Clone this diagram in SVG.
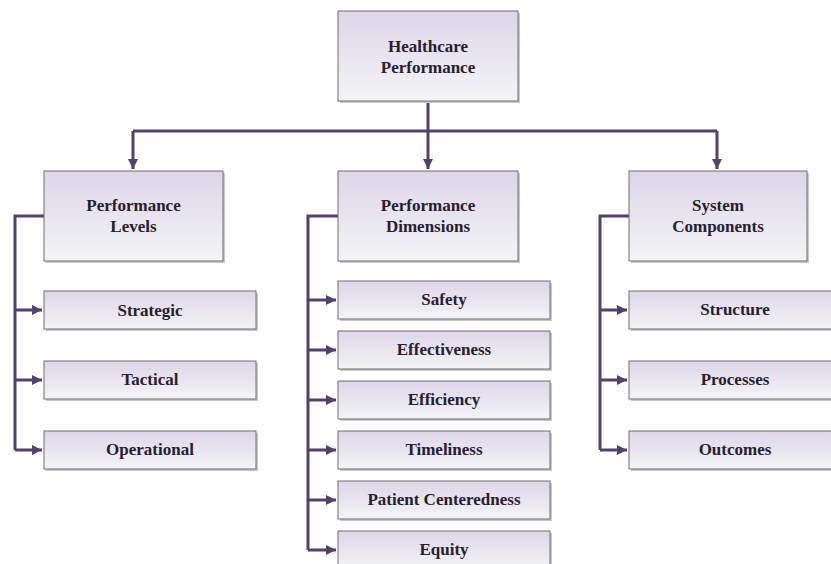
<svg xmlns="http://www.w3.org/2000/svg" width="831" height="564" viewBox="0 0 831 564">
<style>
.box{fill:url(#g);stroke:#6e6e72;stroke-width:1}
.sh{fill:#c8c8cc}
.t{font-family:'Liberation Serif','Times New Roman','DejaVu Serif',serif;font-weight:bold;font-size:17px;fill:#262030;text-anchor:middle}
.c{fill:none;stroke:#50426c;stroke-width:3}
</style>
<defs>
<linearGradient id="g" x1="0" y1="0" x2="0" y2="1">
<stop offset="0" stop-color="#dcd6e7"/>
<stop offset="1" stop-color="#f4f4f6"/>
</linearGradient>
<marker id="a" viewBox="0 0 10 10" refX="10" refY="5" markerWidth="10" markerHeight="10" markerUnits="userSpaceOnUse" orient="auto">
<path d="M0,0 L10,5 L0,10 Z" fill="#50426c"/>
</marker>
</defs>
<rect width="831" height="564" fill="#ffffff"/>
<g id="connectors">
<path class="c" d="M428,101 V169" marker-end="url(#a)"/>
<path class="c" d="M133,131 H717"/>
<path class="c" d="M133,131 V169" marker-end="url(#a)"/>
<path class="c" d="M717,131 V169" marker-end="url(#a)"/>
<path class="c" d="M44,216 H15 V450"/>
<path class="c" d="M15,310 H42" marker-end="url(#a)"/>
<path class="c" d="M15,380 H42" marker-end="url(#a)"/>
<path class="c" d="M15,450 H42" marker-end="url(#a)"/>
<path class="c" d="M338,216 H308 V550"/>
<path class="c" d="M308,300 H336" marker-end="url(#a)"/>
<path class="c" d="M308,350 H336" marker-end="url(#a)"/>
<path class="c" d="M308,400 H336" marker-end="url(#a)"/>
<path class="c" d="M308,450 H336" marker-end="url(#a)"/>
<path class="c" d="M308,500 H336" marker-end="url(#a)"/>
<path class="c" d="M308,550 H336" marker-end="url(#a)"/>
<path class="c" d="M629,216 H600 V450"/>
<path class="c" d="M600,310 H627" marker-end="url(#a)"/>
<path class="c" d="M600,380 H627" marker-end="url(#a)"/>
<path class="c" d="M600,450 H627" marker-end="url(#a)"/>
</g>
<g id="root"><rect class="sh" x="340" y="13" width="180" height="90"/><rect class="box" x="338" y="11" width="180" height="90"/><text class="t" x="428" y="52">Healthcare</text><text class="t" x="428" y="73">Performance</text></g>
<g id="levels"><rect class="sh" x="46" y="173" width="179" height="90"/><rect class="box" x="44" y="171" width="179" height="90"/><text class="t" x="133.5" y="211">Performance</text><text class="t" x="133.5" y="232">Levels</text></g>
<g id="dimensions"><rect class="sh" x="340" y="173" width="180" height="90"/><rect class="box" x="338" y="171" width="180" height="90"/><text class="t" x="428" y="211">Performance</text><text class="t" x="428" y="232">Dimensions</text></g>
<g id="components"><rect class="sh" x="631" y="173" width="178" height="90"/><rect class="box" x="629" y="171" width="178" height="90"/><text class="t" x="718" y="211">System</text><text class="t" x="718" y="232">Components</text></g>
<g id="strategic"><rect class="sh" x="46" y="293" width="212" height="38"/><rect class="box" x="44" y="291" width="212" height="38"/><text class="t" x="150" y="316">Strategic</text></g>
<g id="tactical"><rect class="sh" x="46" y="363" width="212" height="38"/><rect class="box" x="44" y="361" width="212" height="38"/><text class="t" x="150" y="385">Tactical</text></g>
<g id="operational"><rect class="sh" x="46" y="433" width="212" height="38"/><rect class="box" x="44" y="431" width="212" height="38"/><text class="t" x="150" y="455">Operational</text></g>
<g id="safety"><rect class="sh" x="340" y="283" width="212" height="38"/><rect class="box" x="338" y="281" width="212" height="38"/><text class="t" x="444" y="305">Safety</text></g>
<g id="effectiveness"><rect class="sh" x="340" y="333" width="212" height="38"/><rect class="box" x="338" y="331" width="212" height="38"/><text class="t" x="444" y="355">Effectiveness</text></g>
<g id="efficiency"><rect class="sh" x="340" y="383" width="212" height="38"/><rect class="box" x="338" y="381" width="212" height="38"/><text class="t" x="444" y="405">Efficiency</text></g>
<g id="timeliness"><rect class="sh" x="340" y="433" width="212" height="38"/><rect class="box" x="338" y="431" width="212" height="38"/><text class="t" x="444" y="455">Timeliness</text></g>
<g id="patient"><rect class="sh" x="340" y="483" width="212" height="38"/><rect class="box" x="338" y="481" width="212" height="38"/><text class="t" x="444" y="505">Patient Centeredness</text></g>
<g id="equity"><rect class="sh" x="340" y="533" width="212" height="38"/><rect class="box" x="338" y="531" width="212" height="38"/><text class="t" x="444" y="555">Equity</text></g>
<g id="structure"><rect class="sh" x="631" y="293" width="212" height="38"/><rect class="box" x="629" y="291" width="212" height="38"/><text class="t" x="735" y="315">Structure</text></g>
<g id="processes"><rect class="sh" x="631" y="363" width="212" height="38"/><rect class="box" x="629" y="361" width="212" height="38"/><text class="t" x="735" y="385">Processes</text></g>
<g id="outcomes"><rect class="sh" x="631" y="433" width="212" height="38"/><rect class="box" x="629" y="431" width="212" height="38"/><text class="t" x="735" y="455">Outcomes</text></g>
</svg>
